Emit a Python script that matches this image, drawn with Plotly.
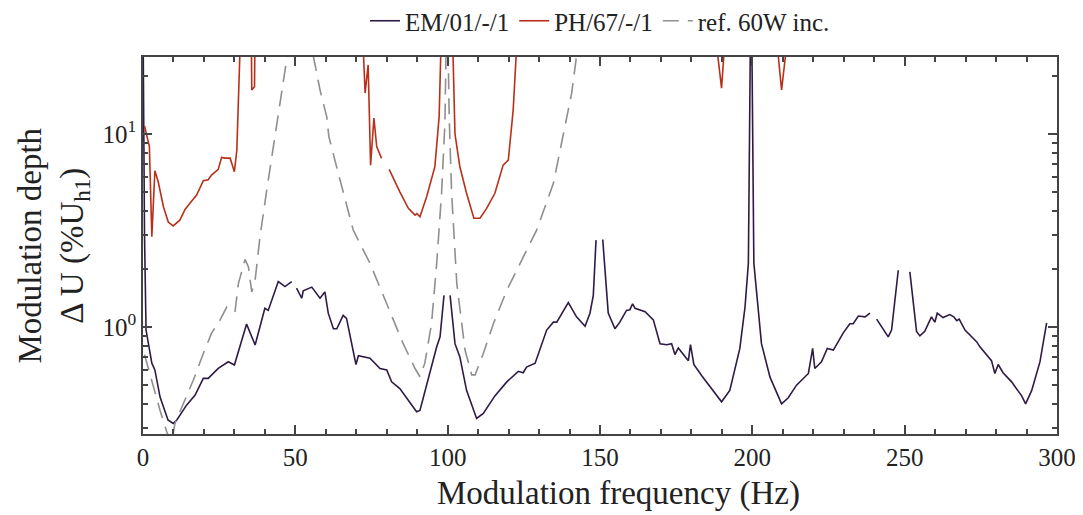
import plotly.graph_objects as go

# ---------------- data ----------------
em_freq = [0.0, 0.5, 1.0, 2.9, 3.9, 5.6, 8.2, 9.9, 11.1, 14.3, 17.1, 19.8, 21.4, 24.7, 28.0, 30.0,
           34.0, 36.8, 40.0, 41.1, 44.4, 46.6, 48.8, 49.5, 50.4, 52.1, 52.6, 55.4, 58.1, 59.7,
           60.8, 62.5, 63.6, 65.7, 66.8, 69.9, 70.7, 74.5, 77.8, 80.0, 81.6, 84.3, 89.8, 90.9,
           96.4, 97.5, 98.8, 99.8, 100.8, 102.4, 104.0, 106.2, 109.5, 111.7, 115.5, 119.4,
           123.2, 124.8, 125.9, 128.7, 132.5, 134.7, 135.8, 139.6, 142.3, 145.1, 146.7, 147.8,
           148.7, 149.8, 150.9, 152.7, 154.9, 156.5, 158.7, 159.8, 160.7, 161.5, 164.8, 167.5,
           169.7, 171.9, 173.5, 174.6, 175.7, 179.0, 179.7, 180.8, 183.4, 189.9, 192.6, 195.9,
           197.6, 198.7, 199.6, 200.5, 203.0, 205.8, 209.6, 211.8, 214.5, 218.4, 219.8, 220.5,
           222.7, 224.6, 226.6, 229.8, 232.0, 233.1, 234.8, 237.0, 238.6, 239.6, 240.8, 243.0,
           244.6, 245.7, 247.9, 249.8, 251.7, 253.9, 255.0, 256.6, 258.8, 259.9, 260.7, 262.6,
           264.8, 266.1, 267.1, 267.9, 269.8, 273.6, 274.7, 276.9, 278.5, 279.6, 280.7, 282.3,
           285.1, 288.4, 289.7, 291.7, 294.4, 296.6]
em_depth = [40, 3.0, 0.965, 0.65, 0.60, 0.434, 0.33, 0.317, 0.33, 0.394, 0.444, 0.542, 0.542, 0.611, 0.661, 0.636,
            1.036, 0.807, 1.25, 1.22, 1.72, 1.62, 1.72, None, 1.59, 1.41, 1.54, 1.61, 1.41, 1.52,
            1.18, 0.98, 0.98, 1.15, 1.11, 0.64, 0.71, 0.69, 0.61, 0.60, 0.52, 0.48, 0.364, 0.37,
            0.79, 0.89, 1.46, None, 1.46, 0.82, 0.70, 0.47, 0.336, 0.357, 0.44, 0.52,
            0.59, 0.58, 0.62, 0.65, 0.965, 1.06, 1.06, 1.34, 1.13, 1.01, 1.18, 1.46,
            2.82, None, 2.84, 1.18, 0.98, 1.06, 1.22, 1.23, 1.32, 1.25, 1.2, 1.09,
            0.82, 0.81, 0.82, 0.72, 0.78, 0.67, 0.81, 0.64, 0.56, 0.41, 0.47, 0.775,
            1.27, 2.14, 80, 2.14, 0.82, 0.55, 0.40, 0.43, 0.50, 0.575, 0.775, 0.61,
            0.66, 0.775, 0.76, 0.93, 1.04, 1.04, 1.14, 1.13, 1.18, None, 1.10, 0.965,
            0.89, 0.965, 1.97, None, 1.93, 0.95, 0.90, 0.95, 1.13, 1.06, 1.18, 1.12,
            1.16, 1.13, 1.08, 1.10, 0.965, 0.84, 0.79, 0.72, 0.67, 0.575, 0.64, 0.58,
            0.52, 0.44, 0.40, 0.47, 0.66, 1.05]

ph_freq = [0.5, 2.1, 2.9, 3.9, 5.0, 6.7, 8.3, 9.9, 12.1, 13.8, 15.4, 17.6, 19.8, 21.4, 22.5, 24.7,
           25.8, 26.9, 28.6, 30.0, 30.8, 31.8, 33.5, 35.5, 35.7, 36.6, 36.8, 45.0, 60.0, 71.4,
           72.9, 73.9, 74.7, 75.8, 76.7, 78.3, 79.5, 80.8, 82.1, 84.3, 87.1, 89.3, 89.9, 90.9,
           93.1, 95.8, 97.2, 98.2, 100.0, 101.3, 102.4, 104.0, 106.2, 108.6, 110.6, 112.8,
           115.5, 118.2, 119.9, 121.5, 123.5, 150.0, 187.2, 189.9, 191.5, 200.0, 207.3, 209.6,
           212.3, 250.0, 300.0]
ph_depth = [11.0, 8.6, 2.94, 6.45, 5.66, 4.2, 3.5, 3.34, 3.58, 4.07, 4.38, 4.83, 5.73, 5.8, 6.13, 6.56,
            7.57, 7.5, 7.5, 6.38, 8.26, 26, 45, 40, 16.9, 17.6, 40, 70, 70, 60,
            16.3, 22.8, 6.9, 12.1, 8.6, 7.48, None, 6.56, 5.9, 5.02, 4.12, 3.8, 3.87, 3.73,
            4.73, 6.77, 12.3, 50, 80, 50, 10.0, 6.77, 4.93, 3.66, 3.66, 4.12,
            4.93, 6.9, 7.33, 13.3, 50, 80, 40, 17.3, 40, 70, 40, 16.9,
            40, 70, 70]

ref_freq = [0.5, 3.4, 5.6, 7.8, 9.3, 10.5, 13.2, 16.5, 19.8, 22.5, 25.3, 27.5, 29.1, 30.2, 31.3,
            33.5, 34.6, 35.7, 36.8, 38.4, 40.6, 42.8, 45.0, 47.2, 47.6, 51.0, 55.5, 56.4, 58.1,
            60.3, 61.0, 64.4, 69.0, 74.5, 80.0, 85.4, 89.3, 90.9, 92.5, 94.7, 96.4, 98.0, 99.1,
            99.8, 100.5, 101.3, 103.0, 105.7, 107.9, 109.0, 111.7, 115.0, 119.4, 123.7, 129.2,
            134.7, 138.0, 140.7, 142.1, 142.4, 143.0]
ref_depth = [0.72, 0.49, 0.37, 0.287, 0.25, 0.317, 0.40, 0.53, 0.73, 0.93, 1.09, 1.27, 1.25, 1.2, 1.68,
             2.24, 2.05, 1.52, 1.75, 2.94, 5.1, 8.6, 14.4, 24.0, 27, 45, 27, 23.2, 16.9,
             12.3, 9.7, 6.0, 3.18, 2.14, 1.33, 0.82, 0.61, 0.553, 0.65, 1.04, 2.14, 4.93, 11.4,
             60, 12.3, 4.93, 1.68, 0.76, 0.565, 0.565, 0.73, 1.04, 1.55, 2.14, 3.18,
             5.55, 10.0, 16.3, 24.0, 27, 35]

series_names = ["EM/01/-/1", "PH/67/-/1", "ref. 60W inc."]
x_tick_vals = [0, 50, 100, 150, 200, 250, 300]
y_tick_vals = [1, 10]
y_tick_text = ["10<sup>0</sup>", "10<sup>1</sup>"]
y_minor_vals = [0.3, 0.4, 0.5, 0.6, 0.7, 0.8, 0.9, 2, 3, 4, 5, 6, 7, 8, 9, 20]
x_title = "Modulation frequency (Hz)"
y_title = "Modulation depth<br>Δ U (%U<sub>h1</sub>)"

# ---------------- figure ----------------
# the page body adds an 8 px margin, so the figure is 8 px smaller and shifted
FONT = "Liberation Serif, Times New Roman, serif"
TXT = "#222222"
W, H = 1075, 507
ML, MR, MT, MB = 135, 26, 49, 81
PH = H - MT - MB  # plot height in px
PW = W - ML - MR

fig = go.Figure()
fig.add_trace(go.Scatter(x=em_freq, y=em_depth, mode="lines", name=series_names[0],
                         line=dict(color="#2d1b45", width=1.6), connectgaps=False))
fig.add_trace(go.Scatter(x=ph_freq, y=ph_depth, mode="lines", name=series_names[1],
                         line=dict(color="#b8301a", width=1.6), connectgaps=False))
fig.add_trace(go.Scatter(x=ref_freq, y=ref_depth, mode="lines", name=series_names[2],
                         line=dict(color="#8f8f8f", width=1.6, dash="16px,9px")))

axis_common = dict(showline=True, linecolor="#444444", linewidth=1.5, mirror="ticks",
                   ticks="inside", tickcolor="#444444", showgrid=False, zeroline=False,
                   automargin=False,
                   tickfont=dict(family=FONT, size=25, color=TXT))

fig.update_xaxes(range=[0, 300], tickmode="array", tickvals=x_tick_vals, ticklen=9, tickwidth=1.5,
                 minor=dict(dtick=10, tick0=0, ticks="inside", ticklen=5, tickcolor="#444444"),
                 **axis_common)
fig.update_yaxes(type="log", range=[-0.554, 1.399], tickmode="array", tickvals=y_tick_vals,
                 ticktext=y_tick_text, ticklen=9, tickwidth=1.5,
                 minor=dict(tickmode="array", tickvals=y_minor_vals, ticks="inside", ticklen=5,
                            tickcolor="#444444"),
                 **axis_common)

# axis titles placed as annotations at the reference positions (figure px = page px - 8)
fig.add_annotation(text=x_title, xref="paper", yref="paper", x=0.5 + 18 / PW,
                   y=-(485 - (H - MB)) / PH, xanchor="center", yanchor="middle",
                   showarrow=False, font=dict(family=FONT, size=33, color=TXT))
fig.add_annotation(text=y_title, xref="paper", yref="paper", x=-(ML - 45) / PW, y=0.5,
                   xanchor="center", yanchor="middle", textangle=-90, showarrow=False,
                   font=dict(family=FONT, size=33, color=TXT))

fig.update_layout(
    width=W, height=H,
    margin=dict(l=ML, r=MR, t=MT, b=MB, autoexpand=False),
    paper_bgcolor="white", plot_bgcolor="white",
    font=dict(family=FONT, size=25, color=TXT),
    legend=dict(orientation="h", x=0.5, xanchor="center", y=1 + (MT - 13) / PH, yanchor="middle",
                font=dict(family=FONT, size=25, color=TXT), bgcolor="rgba(0,0,0,0)",
                itemwidth=30, tracegroupgap=0),
    showlegend=True,
)

fig.write_html("out.html")
